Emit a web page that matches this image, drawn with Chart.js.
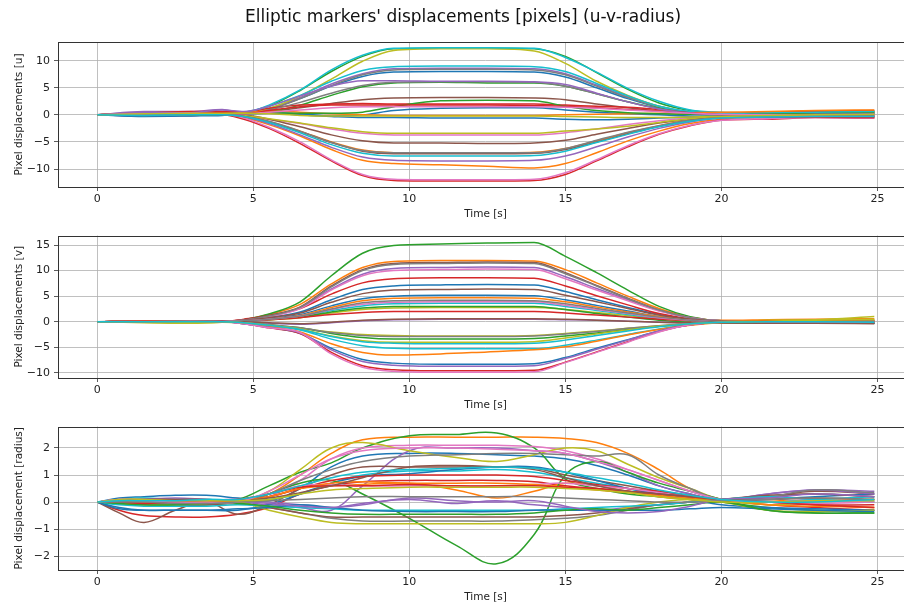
<!DOCTYPE html>
<html lang="en">
<head>
<meta charset="UTF-8">
<title>Elliptic markers' displacements</title>
<script src="https://cdn.jsdelivr.net/npm/chart.js"></script>
<style>
  html, body { margin: 0; padding: 0; background: #fff; overflow: hidden; }
  .panel { position: absolute; left: 0; }
</style>
</head>
<body>
<div class="panel" style="top:0px"><canvas id="chartU" width="926" height="225"></canvas></div>
<div class="panel" style="top:225px"><canvas id="chartV" width="926" height="191"></canvas></div>
<div class="panel" style="top:416px"><canvas id="chartR" width="926" height="192"></canvas></div>

<script>
// matplotlib default colour cycle
const tab10 = ['#1f77b4', '#ff7f0e', '#2ca02c', '#d62728', '#9467bd',
               '#8c564b', '#e377c2', '#7f7f7f', '#bcbd22', '#17becf'];

const figTitle = "Elliptic markers' displacements [pixels] (u-v-radius)";
const xTitle = 'Time [s]';
const yTitles = ['Pixel displacements [u]', 'Pixel displacements [v]', 'Pixel displacement [radius]'];
const xTicks = [0, 5, 10, 15, 20, 25];
const uTicks = [-10, -5, 0, 5, 10];
const vTicks = [-10, -5, 0, 5, 10, 15];
const rTicks = [-2, -1, 0, 1, 2];

// ---------------- u displacement ----------------
const timeU = [0, 1.5, 3, 4, 4.7, 5.5, 6.5, 7.5, 8.5, 9.5, 11, 12.5, 14, 15, 16, 17, 18, 19, 20, 21.5, 23, 24.9];
const dispU = [
  [0, 0.2, 0.3, 0.2, 0.3, 1.1, 3.0, 5.3, 7.1, 7.9, 8.0, 8.0, 7.9, 7.0, 5.0, 3.0, 1.4, 0.5, 0.2, 0.3, 0.4, 0.5],
  [0, -0.2, -0.1, 0.1, -0.5, -1.8, -3.9, -6.4, -8.4, -9.0, -9.2, -9.5, -9.8, -9.0, -7.0, -4.8, -3.0, -1.6, -0.8, -0.4, -0.2, -0.3],
  [0, 0.3, 0.2, 0.3, 0.4, 1.6, 4.5, 8.0, 10.8, 12.2, 12.3, 12.3, 12.2, 10.8, 7.8, 4.7, 2.2, 0.8, 0.3, 0.4, 0.5, 0.6],
  [0, 0.3, 0.5, 0.1, -0.8, -2.5, -5.3, -8.5, -11.2, -12.1, -12.2, -12.2, -12.1, -11.0, -8.5, -5.9, -3.6, -2.0, -1.0, -0.8, -0.5, -0.6],
  [0, 0.6, 0.6, 1.0, 0.4, 1.2, 3.2, 5.7, 7.6, 8.5, 8.6, 8.6, 8.5, 7.6, 5.5, 3.3, 1.6, 0.5, 0.1, 0.0, -0.2, -0.3],
  [0, 0.1, 0.3, 0.4, 0.3, 0.6, 1.3, 2.1, 2.8, 3.1, 3.2, 3.2, 3.1, 2.8, 2.0, 1.3, 0.7, 0.3, 0.2, 0.5, 0.6, 0.5],
  [0, -0.2, -0.1, 0.0, -0.3, -0.8, -1.6, -2.6, -3.4, -3.7, -3.7, -3.7, -3.7, -3.3, -2.6, -1.8, -1.1, -0.6, -0.3, -0.2, -0.2, -0.3],
  [0, 0.1, 0.2, 0.2, 0.2, 1.0, 3.0, 5.4, 7.4, 8.3, 8.4, 8.4, 8.3, 7.4, 5.3, 3.2, 1.5, 0.5, 0.2, 0.3, 0.3, 0.2],
  [0, 0.1, 0.2, 0.2, 0.3, 1.2, 3.5, 6.6, 9.9, 11.9, 12.2, 12.2, 11.8, 9.5, 6.2, 3.6, 1.6, 0.5, 0.2, 0.3, 0.5, 0.6],
  [0, 0.1, 0.2, 0.1, 0.3, 1.8, 4.6, 8.3, 11.0, 12.3, 12.4, 12.4, 12.3, 10.6, 7.9, 4.9, 2.5, 0.9, 0.5, 0.4, 0.5, 0.7],
  [0, -0.2, -0.1, 0.0, 0.1, 0.3, 0.0, -0.3, -0.5, -0.5, -0.6, -0.6, -0.6, -0.8, -0.9, -0.8, -0.6, -0.4, -0.2, -0.3, -0.2, -0.3],
  [0, 0.1, 0.0, 0.1, -0.2, -1.2, -3.0, -5.0, -6.5, -7.0, -7.0, -7.0, -6.9, -6.2, -4.8, -3.3, -2.0, -1.0, -0.5, -0.3, -0.2, -0.4],
  [0, 0.3, 0.4, 0.3, 0.3, 0.6, 1.8, 3.6, 5.2, 5.9, 6.0, 5.9, 5.9, 5.3, 3.9, 2.4, 1.2, 0.4, 0.1, 0.3, 0.4, 0.5],
  [0, 0.3, 0.6, 0.6, 0.5, 1.2, 1.8, 2.0, 2.1, 2.0, 2.0, 2.0, 2.0, 1.8, 1.6, 1.4, 1.0, 0.5, 0.2, 0.5, 0.7, 0.8],
  [0, -0.1, 0.0, 0.0, -0.4, -1.6, -3.7, -6.0, -7.8, -8.4, -8.5, -8.5, -8.4, -7.6, -5.9, -4.1, -2.5, -1.3, -0.6, -0.4, -0.3, -0.5],
  [0, 0.2, 0.3, 0.2, 0.0, -0.8, -2.2, -3.7, -4.8, -5.2, -5.2, -5.3, -5.2, -4.7, -3.6, -2.5, -1.5, -0.8, -0.4, -0.2, 0.0, 0.1],
  [0, 0.2, 0.3, 0.2, -0.6, -2.3, -5.0, -8.3, -11.0, -11.9, -12.0, -12.0, -11.9, -10.7, -8.3, -5.7, -3.5, -1.9, -1.0, -0.7, -0.5, -0.6],
  [0, 0.1, 0.2, 0.3, 0.2, 0.9, 2.3, 4.0, 5.4, 6.0, 6.1, 6.1, 6.0, 5.3, 3.9, 2.4, 1.1, 0.4, 0.1, 0.2, 0.2, 0.3],
  [0, 0.0, 0.1, 0.2, -0.1, -0.7, -1.5, -2.4, -3.1, -3.4, -3.4, -3.4, -3.4, -3.0, -2.6, -2.1, -1.4, -0.7, -0.3, -0.2, -0.1, -0.2],
  [0, 0.2, 0.3, 0.2, 0.5, 1.6, 3.6, 6.2, 8.2, 8.9, 9.0, 9.0, 8.9, 8.0, 5.8, 3.5, 1.6, 0.6, 0.3, 0.4, 0.5, 0.6],
  [0, -0.3, -0.2, -0.1, 0.2, 0.4, 0.2, -0.2, 0.0, 0.8, 1.2, 1.3, 1.3, 0.9, 0.5, 0.2, 0.0, -0.2, -0.3, -0.4, -0.3, -0.2],
  [0, 0.3, 0.4, 0.3, 0.4, 0.7, 0.5, 0.2, 0.0, -0.1, -0.1, -0.1, -0.1, 0.0, 0.1, 0.2, 0.3, 0.4, 0.5, 0.6, 0.8, 0.9],
  [0, 0.1, 0.0, 0.1, 0.2, 0.4, 0.3, 0.3, 0.5, 1.5, 2.6, 2.7, 2.6, 1.6, 0.8, 0.4, 0.2, 0.1, 0.0, 0.1, 0.2, 0.3],
  [0, 0.4, 0.5, 0.4, 0.2, 0.8, 1.5, 1.8, 1.8, 1.8, 1.8, 1.8, 1.7, 1.6, 1.3, 1.0, 0.7, 0.4, 0.0, -0.3, -0.4, -0.5],
  [0, 0.5, 0.4, 0.9, 0.6, 1.6, 3.5, 5.3, 6.3, 6.3, 6.2, 6.2, 6.1, 5.6, 4.0, 2.4, 1.1, 0.3, 0.0, -0.1, 0.1, 0.2],
  [0, 0.0, 0.1, 0.0, -0.3, -1.3, -3.1, -5.1, -6.7, -7.2, -7.2, -7.2, -7.1, -6.4, -5.0, -3.5, -2.1, -1.1, -0.5, -0.2, 0.0, -0.1],
  [0, 0.2, 0.3, 0.2, 0.2, 0.5, 0.9, 1.3, 1.5, 1.5, 1.5, 1.5, 1.5, 1.4, 1.2, 0.9, 0.6, 0.3, 0.1, 0.0, -0.1, 0.0],
  [0, -0.1, 0.0, 0.1, -0.3, -1.2, -3.0, -5.1, -6.6, -7.0, -7.0, -7.0, -7.0, -6.2, -4.7, -3.2, -2.0, -1.0, -0.5, -0.3, -0.2, -0.1],
  [0, 0.2, 0.3, 0.3, 0.3, 0.2, -0.1, -0.2, -0.2, -0.2, -0.2, -0.2, -0.2, -0.3, -0.4, -0.5, -0.5, -0.4, -0.3, -0.1, 0.0, 0.1],
  [0, -0.1, 0.0, 0.0, -0.3, -1.4, -3.3, -5.5, -7.1, -7.6, -7.6, -7.6, -7.5, -6.7, -5.1, -3.6, -2.2, -1.2, -0.6, -0.4, -0.3, -0.3]
];

// ---------------- v displacement ----------------
const timeV = [0, 1.5, 3, 4, 4.7, 5.5, 6.5, 7.5, 8.5, 9.5, 11, 12.5, 14, 15, 16, 17, 18, 19, 20, 21.5, 23, 24.9];
const dispV = [
  [0, 0.1, 0.0, 0.1, 0.3, 0.8, 1.9, 4.3, 6.3, 7.0, 7.2, 7.3, 7.2, 5.9, 4.3, 2.8, 1.4, 0.5, 0.1, 0.0, -0.1, -0.2],
  [0, -0.1, 0.0, 0.0, 0.4, 1.4, 3.4, 7.4, 10.6, 11.8, 12.0, 12.0, 11.9, 10.2, 7.6, 5.0, 2.6, 0.9, 0.3, 0.4, 0.5, 0.6],
  [0, 0.1, 0.1, 0.0, 0.4, 1.5, 3.9, 9.0, 13.4, 14.9, 15.2, 15.4, 15.5, 12.8, 9.6, 6.2, 3.0, 1.0, 0.2, 0.1, 0.2, 0.3],
  [0, 0.1, 0.0, 0.0, 0.5, 1.2, 2.6, 5.4, 7.6, 8.4, 8.6, 8.6, 8.5, 7.0, 5.1, 3.3, 1.6, 0.6, 0.2, 0.2, 0.3, 0.3],
  [0, 0.0, 0.1, 0.0, 0.3, 1.0, 2.7, 6.4, 9.3, 10.4, 10.6, 10.7, 10.6, 8.8, 6.5, 4.3, 2.2, 0.8, 0.2, 0.1, 0.0, -0.1],
  [0, 0.2, 0.1, 0.1, 0.4, 1.2, 2.9, 7.0, 10.2, 11.4, 11.6, 11.7, 11.6, 9.6, 7.1, 4.6, 2.3, 0.8, 0.1, -0.1, -0.1, -0.3],
  [0, 0.0, 0.1, 0.1, 0.3, 1.0, 2.6, 6.2, 9.0, 10.0, 10.2, 10.3, 10.2, 8.4, 6.2, 4.1, 2.1, 0.8, 0.2, 0.1, 0.2, 0.1],
  [0, 0.1, 0.0, 0.1, 0.3, 1.1, 2.8, 6.8, 10.0, 11.2, 11.4, 11.5, 11.4, 9.4, 7.0, 4.5, 2.3, 0.8, 0.2, 0.0, -0.1, -0.2],
  [0, -0.2, -0.3, -0.1, 0.2, 0.4, 0.8, 1.7, 2.4, 2.7, 2.8, 2.8, 2.8, 2.4, 1.8, 1.2, 0.6, 0.2, 0.0, 0.3, 0.4, 1.0],
  [0, 0.0, 0.1, 0.1, 0.2, 0.5, 1.0, 2.2, 3.1, 3.5, 3.6, 3.6, 3.6, 3.0, 2.2, 1.4, 0.7, 0.2, 0.0, -0.1, -0.1, 0.0],
  [0, 0.1, 0.0, 0.1, 0.2, 0.6, 1.4, 3.1, 4.5, 5.0, 5.2, 5.2, 5.1, 4.3, 3.2, 2.1, 1.0, 0.3, 0.0, -0.1, -0.2, -0.3],
  [0, 0.0, 0.1, 0.0, 0.2, 0.5, 1.2, 2.8, 4.1, 4.6, 4.7, 4.7, 4.6, 3.9, 2.9, 1.9, 1.0, 0.4, 0.1, 0.2, 0.1, 0.0],
  [0, 0.0, 0.0, 0.0, 0.1, 0.4, 0.9, 1.9, 2.7, 3.0, 3.0, 3.0, 3.0, 2.4, 1.6, 0.9, 0.3, -0.1, -0.3, -0.2, -0.1, -0.2],
  [0, 0.1, 0.0, 0.0, 0.2, 0.4, 0.8, 1.4, 1.8, 2.0, 2.0, 2.0, 2.0, 1.7, 1.3, 0.9, 0.5, 0.2, 0.0, 0.1, 0.2, 0.2],
  [0, 0.0, 0.1, 0.0, 0.0, -0.3, -0.5, -0.2, 0.2, 0.4, 0.5, 0.5, 0.5, 0.4, 0.3, 0.1, -0.1, -0.2, -0.2, -0.1, 0.0, -0.1],
  [0, 0.1, 0.1, 0.0, 0.3, 0.8, 1.7, 3.8, 5.5, 6.2, 6.3, 6.4, 6.3, 5.2, 3.9, 2.6, 1.3, 0.5, 0.1, 0.0, -0.1, -0.1],
  [0, 0.1, 0.0, 0.1, 0.2, 0.5, 1.1, 2.4, 3.4, 3.8, 3.9, 3.9, 3.9, 3.2, 2.4, 1.6, 0.8, 0.3, 0.0, 0.0, 0.1, 0.1],
  [0, 0.0, 0.1, 0.1, 0.2, 0.5, 1.1, 2.5, 3.7, 4.1, 4.2, 4.2, 4.1, 3.5, 2.6, 1.7, 0.9, 0.3, 0.0, -0.1, -0.1, 0.0],
  [0, -0.1, -0.2, -0.1, -0.2, -0.7, -1.3, -2.0, -2.5, -2.7, -2.8, -2.8, -2.7, -2.3, -1.8, -1.3, -0.8, -0.4, -0.1, 0.0, 0.1, 0.2],
  [0, 0.0, 0.0, 0.0, -0.3, -0.8, -1.6, -3.4, -4.7, -5.2, -5.3, -5.3, -5.3, -4.6, -3.6, -2.5, -1.4, -0.6, -0.1, 0.0, -0.1, -0.2],
  [0, 0.0, -0.1, 0.0, -0.4, -1.1, -2.3, -5.2, -7.4, -8.1, -8.3, -8.3, -8.2, -7.0, -5.2, -3.5, -1.8, -0.6, -0.1, -0.2, -0.3, -0.3],
  [0, 0.1, 0.0, 0.0, -0.3, -0.9, -2.0, -4.3, -6.0, -6.5, -6.3, -5.9, -5.5, -4.9, -3.8, -2.6, -1.5, -0.7, -0.2, -0.1, 0.0, 0.1],
  [0, 0.0, 0.1, 0.0, -0.2, -0.6, -1.2, -2.3, -3.1, -3.4, -3.4, -3.4, -3.3, -2.8, -2.2, -1.5, -0.9, -0.4, -0.1, -0.2, -0.2, -0.3],
  [0, 0.1, 0.0, 0.1, -0.4, -1.2, -2.3, -6.0, -8.6, -9.4, -9.6, -9.6, -9.5, -7.9, -5.9, -3.9, -1.9, -0.6, -0.1, 0.0, 0.1, 0.0],
  [0, 0.0, 0.0, 0.0, -0.4, -1.1, -2.2, -5.5, -7.8, -8.5, -8.7, -8.7, -8.6, -7.2, -5.4, -3.6, -1.8, -0.6, -0.1, -0.1, -0.2, -0.2],
  [0, 0.0, 0.1, 0.0, 0.0, -0.2, -0.4, -0.1, 0.3, 0.5, 0.6, 0.6, 0.6, 0.5, 0.3, 0.1, -0.1, -0.2, -0.2, -0.3, -0.3, -0.4],
  [0, 0.0, 0.1, 0.0, -0.4, -1.2, -2.1, -6.3, -8.9, -9.7, -9.9, -9.9, -9.8, -8.0, -6.0, -4.0, -2.0, -0.6, -0.1, 0.0, 0.0, -0.1],
  [0, -0.1, 0.0, 0.0, -0.2, -0.6, -1.2, -2.1, -2.7, -2.9, -2.9, -2.9, -2.8, -2.4, -1.9, -1.3, -0.8, -0.4, -0.1, 0.0, 0.0, 0.1],
  [0, 0.0, -0.1, 0.0, -0.2, -0.7, -1.4, -2.8, -3.7, -4.0, -4.0, -4.0, -3.9, -3.2, -2.4, -1.6, -0.9, -0.4, -0.1, 0.1, 0.3, 0.5],
  [0, 0.0, 0.0, 0.0, -0.2, -0.7, -1.5, -2.9, -3.9, -4.2, -4.3, -4.3, -4.2, -3.6, -2.7, -1.8, -1.0, -0.4, -0.1, 0.0, 0.0, -0.1]
];

// ---------------- radius change ----------------
const timeR = [0, 0.7, 1.5, 2.5, 3.5, 4.5, 5.5, 6.5, 7.5, 8.5, 10, 11.5, 12.8, 14, 15, 16, 17, 18, 19, 20, 21.5, 23, 24.9];
const dispR = [
  [0, 0.15, 0.2, 0.25, 0.25, 0.15, 0.05, 0.5, 1.3, 1.7, 1.8, 1.8, 1.75, 1.7, 1.6, 1.35, 1.0, 0.6, 0.3, 0.05, 0.1, 0.2, 0.3],
  [0, 0.1, 0.1, 0.05, 0.0, 0.0, 0.3, 1.0, 1.8, 2.3, 2.4, 2.4, 2.4, 2.4, 2.35, 2.2, 1.8, 1.2, 0.5, 0.1, 0.0, 0.05, 0.1],
  [0, 0.05, 0.1, 0.1, 0.05, 0.1, 0.6, 1.1, 1.45, 2.0, 2.45, 2.5, 2.55, 2.0, 0.85, 0.5, 0.3, 0.2, 0.1, 0.0, -0.2, -0.3, -0.3],
  [0, -0.3, -0.5, -0.55, -0.55, -0.45, -0.2, 0.3, 0.6, 0.75, 0.8, 0.8, 0.8, 0.75, 0.6, 0.5, 0.4, 0.3, 0.15, 0.05, -0.1, -0.2, -0.3],
  [0, 0.05, 0.0, -0.05, 0.0, 0.0, -0.1, -0.2, -0.3, 0.6, 1.9, 2.0, 2.0, 1.9, 1.8, 1.5, 1.1, 0.6, 0.3, 0.1, 0.3, 0.45, 0.4],
  [0, -0.4, -0.75, -0.3, 0.0, -0.45, -0.1, 0.5, 1.0, 1.3, 1.3, 1.3, 1.3, 1.25, 1.0, 0.8, 0.6, 0.4, 0.2, 0.05, 0.2, 0.4, 0.3],
  [0, 0.1, 0.1, 0.1, 0.1, 0.0, 0.2, 0.8, 1.6, 2.0, 2.1, 2.1, 2.1, 2.05, 1.9, 1.6, 1.2, 0.8, 0.4, 0.1, 0.0, 0.1, 0.0],
  [0, -0.05, -0.1, -0.1, -0.1, -0.05, -0.2, -0.4, -0.6, -0.7, -0.7, -0.7, -0.7, -0.65, -0.6, -0.5, -0.3, -0.1, 0.0, 0.1, 0.2, 0.3, 0.2],
  [0, 0.05, 0.1, 0.1, 0.05, 0.0, 0.4, 1.2, 2.0, 2.2, 1.9, 1.65, 1.5, 1.75, 2.0, 1.9, 1.4, 0.9, 0.5, 0.1, -0.1, 0.0, 0.1],
  [0, 0.1, 0.15, 0.1, 0.1, 0.05, 0.1, 0.3, 0.7, 1.0, 1.15, 1.15, 1.2, 1.1, 0.9, 0.7, 0.5, 0.3, 0.2, 0.1, 0.0, 0.1, 0.2],
  [0, -0.2, -0.3, -0.3, -0.3, -0.3, -0.1, 0.3, 0.7, 0.95, 1.05, 1.2, 1.3, 1.3, 1.1, 0.8, 0.5, 0.3, 0.1, -0.1, -0.2, -0.25, -0.3],
  [0, 0.0, 0.05, 0.05, 0.0, 0.05, 0.2, 0.5, 0.6, 0.65, 0.7, 0.45, 0.15, 0.4, 0.7, 0.6, 0.4, 0.2, 0.1, 0.0, 0.1, -0.1, -0.2],
  [0, 0.0, -0.05, -0.1, -0.1, 0.0, 0.3, 0.7, 0.8, 0.3, -0.6, -1.6, -2.28, -1.2, 1.0, 1.5, 1.1, 0.7, 0.4, 0.1, -0.3, -0.4, -0.4],
  [0, 0.05, 0.0, 0.0, 0.05, 0.1, 0.2, 0.5, 0.8, 0.95, 1.0, 1.0, 1.0, 0.95, 0.8, 0.65, 0.5, 0.4, 0.25, 0.1, 0.0, -0.1, -0.1],
  [0, 0.1, 0.05, 0.0, 0.05, 0.1, 0.0, -0.1, -0.2, -0.05, 0.1, -0.05, 0.05, -0.1, -0.2, -0.3, -0.2, -0.1, 0.0, 0.05, 0.3, 0.45, 0.3],
  [0, 0.0, -0.05, -0.1, -0.1, -0.05, -0.2, -0.4, -0.55, -0.55, -0.55, -0.55, -0.55, -0.55, -0.5, -0.4, -0.25, -0.1, 0.0, 0.1, 0.25, 0.3, 0.2],
  [0, 0.1, 0.1, 0.05, 0.0, 0.05, 0.3, 0.6, 0.65, 0.6, 0.6, 0.6, 0.6, 0.65, 0.7, 0.6, 0.5, 0.35, 0.2, 0.1, 0.0, -0.05, 0.0],
  [0, 0.0, 0.05, 0.05, 0.0, 0.0, 0.3, 0.8, 1.2, 1.5, 1.7, 1.75, 1.8, 1.8, 1.75, 1.7, 1.75, 1.0, 0.5, 0.1, 0.2, 0.45, 0.35],
  [0, -0.05, -0.1, -0.1, -0.05, 0.0, -0.3, -0.55, -0.75, -0.8, -0.8, -0.8, -0.8, -0.8, -0.75, -0.5, -0.2, 0.0, 0.1, 0.0, -0.3, -0.35, -0.3],
  [0, -0.1, -0.15, -0.15, -0.15, -0.1, -0.15, -0.2, -0.25, -0.3, -0.3, -0.3, -0.3, -0.3, -0.25, -0.2, -0.15, -0.1, 0.0, 0.1, 0.2, 0.1, 0.0],
  [0, -0.25, -0.3, -0.3, -0.3, -0.25, -0.2, -0.1, -0.2, -0.3, -0.35, -0.35, -0.35, -0.3, -0.3, -0.3, -0.3, -0.3, -0.25, -0.2, -0.25, -0.3, -0.35],
  [0, 0.05, 0.0, 0.0, 0.0, 0.05, 0.2, 0.5, 0.7, 0.75, 0.7, 0.7, 0.7, 0.65, 0.55, 0.45, 0.35, 0.25, 0.15, 0.1, -0.1, -0.15, -0.2],
  [0, -0.05, -0.1, -0.1, -0.05, -0.05, -0.15, -0.3, -0.4, -0.45, -0.45, -0.45, -0.45, -0.4, -0.3, -0.25, -0.3, -0.2, -0.1, 0.0, -0.3, -0.4, -0.4],
  [0, 0.0, -0.05, 0.0, 0.05, 0.1, 0.3, 0.55, 0.6, 0.6, 0.65, 0.6, 0.6, 0.6, 0.55, 0.5, 0.4, 0.3, 0.2, 0.1, 0.0, -0.1, -0.2],
  [0, 0.05, 0.1, 0.15, 0.1, 0.05, -0.05, -0.15, -0.2, -0.1, 0.15, 0.05, 0.0, 0.05, -0.15, -0.35, -0.4, -0.35, -0.15, 0.1, 0.15, 0.3, 0.2],
  [0, 0.05, 0.1, 0.1, 0.1, 0.05, 0.15, 0.35, 0.6, 0.9, 1.3, 1.35, 1.3, 1.2, 0.9, 0.6, 0.4, 0.3, 0.2, 0.1, 0.1, 0.15, 0.1],
  [0, 0.05, 0.05, 0.0, 0.0, 0.0, 0.4, 1.0, 1.6, 1.9, 2.0, 2.0, 1.95, 1.9, 1.8, 1.5, 1.2, 0.8, 0.4, 0.1, 0.0, 0.05, 0.0],
  [0, 0.0, 0.0, -0.05, -0.05, 0.0, 0.05, 0.1, 0.15, 0.2, 0.2, 0.2, 0.2, 0.2, 0.15, 0.1, 0.05, 0.0, 0.0, 0.05, 0.1, 0.15, 0.1],
  [0, 0.1, 0.1, 0.05, 0.05, 0.05, 0.1, 0.3, 0.45, 0.5, 0.55, 0.55, 0.55, 0.55, 0.5, 0.45, 0.35, 0.2, 0.1, 0.0, 0.0, 0.05, 0.05],
  [0, 0.05, 0.05, 0.05, 0.1, 0.1, 0.3, 0.6, 0.9, 1.1, 1.2, 1.25, 1.3, 1.25, 1.1, 0.9, 0.7, 0.45, 0.25, 0.1, 0.0, 0.0, 0.1]
];

// =============== drawing ===============
const FONT = 'DejaVu Sans';

// box around the plot area (matplotlib spines)
const spinesPlugin = {
  id: 'spines',
  afterDatasetsDraw(chart) {
    const a = chart.chartArea, ctx = chart.ctx;
    ctx.save();
    ctx.strokeStyle = '#333';
    ctx.lineWidth = 1;
    ctx.strokeRect(a.left + 0.5, Math.round(a.top) + 0.5, a.right - a.left, Math.round(a.bottom - a.top));
    ctx.restore();
  }
};

function keepTicks(list) {
  return function (scale) {
    scale.ticks = list.map(v => ({ value: v }));
  };
}

function minusSign(v) {
  return String(v).replace('-', '\u2212');
}

function makeChart(id, times, series, yTitle, yTickList, yMin, yMax, smooth, extra) {
  const datasets = series.map((vals, i) => ({
    data: vals.map((y, k) => ({ x: times[k], y: y })),
    borderColor: tab10[i % 10],
    borderWidth: 1.5,
    pointRadius: 0,
    fill: false,
    order: series.length - i,
    tension: smooth === 'monotone' ? 0 : 0.4,
    cubicInterpolationMode: smooth === 'monotone' ? 'monotone' : 'default'
  }));

  return new Chart(document.getElementById(id), {
    type: 'line',
    data: { datasets: datasets },
    options: {
      responsive: false,
      animation: false,
      devicePixelRatio: 1,
      layout: { padding: extra.padding },
      plugins: {
        legend: { display: false },
        tooltip: { enabled: false },
        title: extra.title || { display: false }
      },
      scales: {
        x: {
          type: 'linear',
          min: -1.26,
          max: 26.14,
          afterBuildTicks: keepTicks(xTicks),
          afterFit(scale) { scale.height = 38; },
          grid: { color: '#b0b0b0', lineWidth: 0.8, tickLength: 4, tickColor: '#333', tickWidth: 0.8 },
          border: { display: false },
          ticks: { autoSkip: false, maxRotation: 0, padding: 2, color: '#222',
                   font: { family: FONT, size: 11 }, callback: v => minusSign(v) },
          title: { display: true, text: xTitle, color: '#222',
                   font: { family: FONT, size: 10.5 }, padding: { top: 0, bottom: 4.7 } }
        },
        y: {
          type: 'linear',
          min: yMin,
          max: yMax,
          afterBuildTicks: keepTicks(yTickList),
          afterFit(scale) { scale.width = 45; },
          grid: { color: '#b0b0b0', lineWidth: 0.8, tickLength: 4, tickColor: '#333', tickWidth: 0.8 },
          border: { display: false },
          ticks: { autoSkip: false, padding: 4, color: '#222',
                   font: { family: FONT, size: 11 }, callback: v => minusSign(v) },
          title: { display: true, text: yTitle, color: '#222',
                   font: { family: FONT, size: 10.5 }, padding: { top: 0, bottom: 0 } }
        }
      }
    },
    plugins: [spinesPlugin]
  });
}

makeChart('chartU', timeU, dispU, yTitles[0], uTicks, -13.32, 13.45, 'monotone', {
  padding: { left: 13, right: 13, top: 0, bottom: 0 },
  title: { display: true, text: figTitle, color: '#111',
           font: { family: FONT, size: 17, weight: 'normal' }, padding: { top: 7.8, bottom: 13.8 } }
});
makeChart('chartV', timeV, dispV, yTitles[1], vTicks, -11.01, 16.85, 'monotone', {
  padding: { left: 13, right: 13, top: 7, bottom: 0 }
});
makeChart('chartR', timeR, dispR, yTitles[2], rTicks, -2.51, 2.79, 'smooth', {
  padding: { left: 13, right: 13, top: 8, bottom: 0 }
});
</script>
</body>
</html>
